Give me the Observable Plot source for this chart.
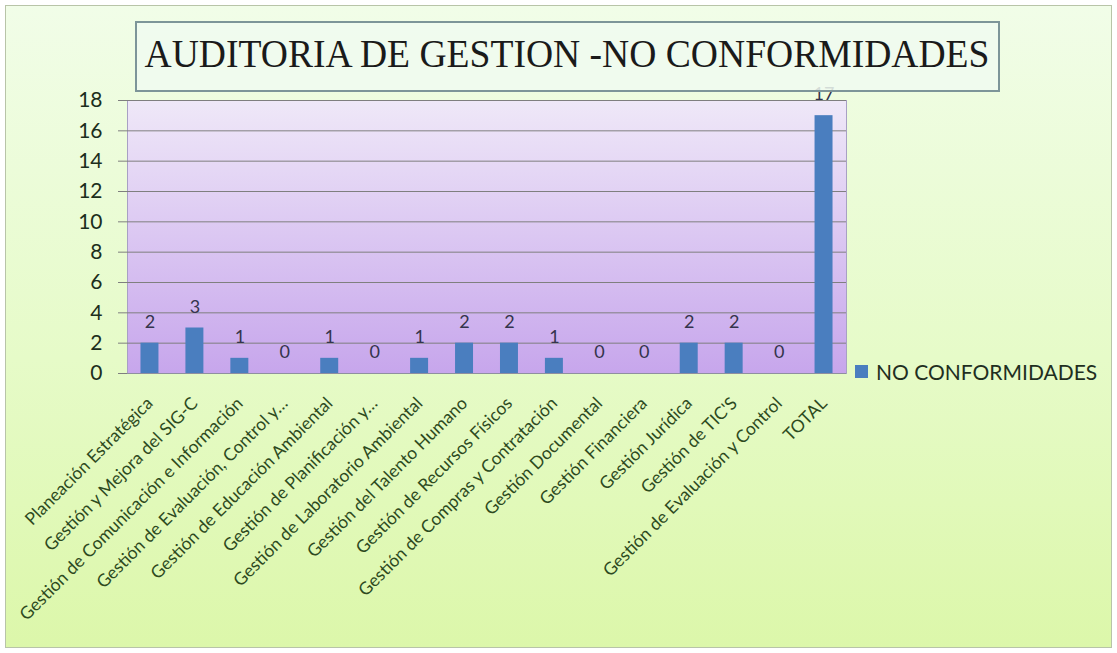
<!DOCTYPE html>
<html>
<head>
<meta charset="utf-8">
<script src="https://cdn.jsdelivr.net/npm/d3@7"></script>
<script src="https://cdn.jsdelivr.net/npm/@observablehq/plot@0.6"></script>
<style>
  html, body { margin: 0; padding: 0; background: #ffffff; }
  #wrap {
    position: relative; width: 1117px; height: 653px; overflow: hidden;
    font-family: Lato, "Open Sans", sans-serif;
  }
  #bg {
    position: absolute; left: 5px; top: 5px; width: 1105px; height: 641px;
    border: 1px solid #b8c4a8;
    background: linear-gradient(to bottom, #f1fde8 0%, #e6fbc8 55%, #dcf7aa 100%);
  }
  #chart { position: absolute; left: 0; top: 0; }
  #titlebox {
    position: absolute; left: 135px; top: 21px; width: 861px; height: 67px;
    border: 2px solid #7d9599; background: rgba(240, 250, 240, 0.85);
  }
  #titlebox svg { display: block; }
  #legend {
    position: absolute; left: 855px; top: 359px; display: flex; align-items: center;
    font-size: 21px; color: #1f2f1f; white-space: nowrap;
  }
  #legend .sw { width: 13px; height: 13px; background: #4a7ebf; margin-right: 8px; }
</style>
</head>
<body>
<div id="wrap">
  <div id="bg"></div>
  <div id="chart"></div>
  <div id="titlebox">
    <svg width="861" height="67">
      <text id="ttl" x="0" y="0" text-anchor="middle" font-family="'Liberation Serif', serif" font-size="41" fill="#1a1a1a">AUDITORIA DE GESTION  -NO CONFORMIDADES</text>
    </svg>
  </div>
  <div id="legend"><div class="sw"></div><span>NO CONFORMIDADES</span></div>
</div>
<script>
const categories = [
  "Planeación Estratégica",
  "Gestión y Mejora del SIG-C",
  "Gestión de Comunicación e Información",
  "Gestión de Evaluación, Control y…",
  "Gestión de Educación Ambiental",
  "Gestión de Planificación y…",
  "Gestión de Laboratorio Ambiental",
  "Gestión del Talento Humano",
  "Gestión de Recursos Físicos",
  "Gestión de Compras y Contratación",
  "Gestión Documental",
  "Gestión Financiera",
  "Gestión Jurídica",
  "Gestión de TIC'S",
  "Gestión de Evaluación y Control",
  "TOTAL"
];
const noConformidades = [2, 3, 1, 0, 1, 0, 1, 2, 2, 1, 0, 0, 2, 2, 0, 17];
const yTicks = [0, 2, 4, 6, 8, 10, 12, 14, 16, 18];

const data = categories.map((c, i) => ({cat: c, value: noConformidades[i]}));

const plot = Plot.plot({
  width: 1117,
  height: 653,
  marginLeft: 127,
  marginRight: 271,
  marginTop: 100,
  marginBottom: 280,
  style: {background: "transparent", fontFamily: "Lato, 'Open Sans', sans-serif", overflow: "visible"},
  x: {domain: categories, paddingInner: 0.6, paddingOuter: 0.3, round: false, label: null},
  y: {domain: [0, 18], label: null},
  marks: [
    Plot.frame({fill: "url(#plotBg)", stroke: "#a8a0c4"}),
    Plot.gridY(yTicks, {stroke: "#7f7f7f", strokeOpacity: 1, strokeWidth: 1}),
    Plot.axisY(yTicks, {tickSize: 9, tickPadding: 16, fontSize: 21, fill: "#1c2e1c", stroke: "#7f7f7f", label: null}),
    Plot.barY(data, {x: "cat", y: "value", fill: "#4a7ebf"}),
    Plot.text(data, {x: "cat", y: "value", text: d => String(d.value), dy: -21, fontSize: 18, fill: "#34344c"}),
    Plot.ruleY([0], {stroke: "#8f8f9f"}),
    Plot.axisX({tickRotate: -45, tickSize: 0, tickPadding: 27, fontSize: 17.5, fill: "#2d4a1e", label: null})
  ]
});

const ns = "http://www.w3.org/2000/svg";
const defs = document.createElementNS(ns, "defs");
defs.innerHTML = `<linearGradient id="plotBg" x1="0" y1="0" x2="0" y2="1">
  <stop offset="0%" stop-color="#efe8f8"/>
  <stop offset="100%" stop-color="#c7a6ec"/>
</linearGradient>`;
plot.insertBefore(defs, plot.firstChild);
document.getElementById("chart").appendChild(plot);

// fit the title to the width it has in the reference
const ttl = document.getElementById("ttl");
const natural = ttl.getComputedTextLength();
const sx = Math.min(1, 845 / natural);
ttl.setAttribute("transform", `translate(430,44) scale(${sx},1)`);
</script>
</body>
</html>
